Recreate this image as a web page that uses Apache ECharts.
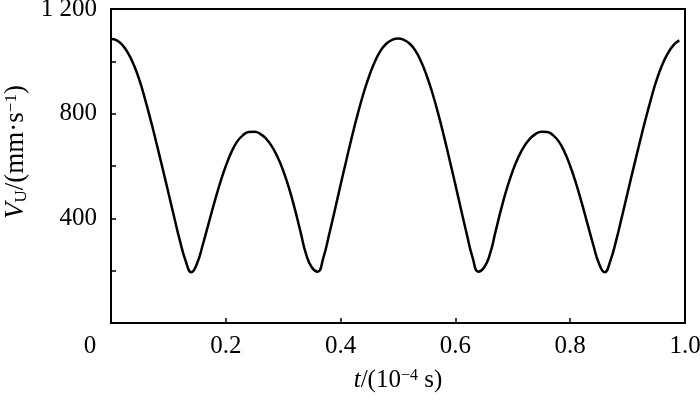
<!DOCTYPE html>
<html>
<head>
<meta charset="utf-8">
<script src="https://cdn.jsdelivr.net/npm/echarts@6/dist/echarts.min.js"></script>
<style>html,body{margin:0;padding:0;background:#fff}#c{width:700px;height:400px}</style>
</head>
<body>
<div id="c"></div>
<script>
// time in 1e-4 s
var times = [0.00,0.01,0.02,0.03,0.04,0.05,0.06,0.07,0.08,0.09,
  0.10,0.11,0.12,0.13,0.14,0.15,0.16,0.17,0.18,0.19,
  0.20,0.21,0.22,0.23,0.24,0.25,0.26,0.27,0.28,0.29,
  0.30,0.31,0.32,0.33,0.34,0.35,0.36,0.37,0.38,0.39,
  0.40,0.41,0.42,0.43,0.44,0.45,0.46,0.47,0.48,0.49,
  0.50,0.51,0.52,0.53,0.54,0.55,0.56,0.57,0.58,0.59,
  0.60,0.61,0.62,0.63,0.64,0.65,0.66,0.67,0.68,0.69,
  0.70,0.71,0.72,0.73,0.74,0.75,0.76,0.77,0.78,0.79,
  0.80,0.81,0.82,0.83,0.84,0.85,0.86,0.87,0.88,0.89,
  0.90,0.91,0.92,0.93,0.94,0.95,0.96,0.97,0.98,0.99];
// velocity in mm/s
var velocity = [1085,1080,1062,1030,985,925,850,768,680,590,
  498,405,315,238,194,228,300,380,460,535,
  600,654,694,718,730,731,723,705,676,635,
  582,516,438,350,262,212,196,250,338,432,
  528,622,714,800,878,945,1000,1042,1068,1082,
  1087,1082,1068,1042,1000,945,878,800,714,622,
  528,432,338,250,196,212,262,350,438,516,
  582,635,676,705,723,731,730,718,694,654,
  600,535,460,380,300,228,194,238,315,405,
  498,590,680,768,850,925,985,1030,1062,1080];
var yTicks = [0, 400, 800, 1200];
var xTicks = [0.2, 0.4, 0.6, 0.8, 1.0];

var pts = times.map(function (t, i) { return [t, velocity[i]]; });
var font = 'Liberation Serif';
var fs = 25;
var chart = echarts.init(document.getElementById('c'), null, {renderer: 'canvas'});
chart.setOption({
  animation: false,
  backgroundColor: '#fff',
  grid: {left: 111, right: 15, top: 9, bottom: 77, outerBoundsMode: 'none', containLabel: false,
    show: true, borderColor: '#000', borderWidth: 2, backgroundColor: 'transparent'},
  xAxis: {
    type: 'value', min: 0, max: 1.0, interval: 0.2,
    name: '{i|t}{n|/(10}{sup|−4}{n| s)}',
    nameLocation: 'middle', nameGap: 45,
    nameTextStyle: {fontFamily: font, fontSize: fs, color: '#000',
      rich: {
        i: {fontFamily: font, fontSize: fs, fontStyle: 'italic', color: '#000'},
        n: {fontFamily: font, fontSize: fs, color: '#000'},
        sup: {fontFamily: font, fontSize: 16, color: '#000', verticalAlign: 'top', padding: [0, 0, 9, 0]}
      }},
    axisLine: {show: true, onZero: false, lineStyle: {color: '#000', width: 2}},
    axisTick: {show: true, inside: true, length: 5, lineStyle: {color: '#000', width: 1.5}},
    splitLine: {show: false},
    axisLabel: {
      fontFamily: font, fontSize: fs, color: '#000', margin: 11,
      formatter: function (v) {
        if (v === 0) return '{o|0}';
        for (var k = 0; k < xTicks.length; k++) if (Math.abs(xTicks[k] - v) < 1e-9) return xTicks[k].toFixed(1);
        return '';
      },
      rich: {o: {fontFamily: font, fontSize: fs, color: '#000', padding: [0, 42, 0, 0]}}
    }
  },
  yAxis: {
    type: 'value', min: 0, max: 1200, interval: 400,
    name: '{i|V}{sub|U}{n|/(mm·s}{sup|−1}{n|)}',
    nameLocation: 'middle', nameGap: 80, nameRotate: 90,
    nameTextStyle: {fontFamily: font, fontSize: 27, color: '#000', padding: [0, 0, 0, 28],
      rich: {
        i: {fontFamily: font, fontSize: 27, fontStyle: 'italic', color: '#000'},
        n: {fontFamily: font, fontSize: 27, color: '#000'},
        sub: {fontFamily: font, fontSize: 17, color: '#000', verticalAlign: 'bottom', padding: [9, 0, 0, 0]},
        sup: {fontFamily: font, fontSize: 17, color: '#000', verticalAlign: 'top', padding: [0, 0, 9, 0]}
      }},
    axisLine: {show: true, lineStyle: {color: '#000', width: 2}},
    axisTick: {show: true, inside: true, length: 5, lineStyle: {color: '#000', width: 1.5}},
    minorTick: {show: true, splitNumber: 2, length: 5, lineStyle: {color: '#000', width: 1.5}},
    splitLine: {show: false},
    axisLabel: {
      fontFamily: font, fontSize: fs, color: '#000', margin: 14,
      formatter: function (v) {
        if (v === 0) return '';
        if (v === 1200) return '1 200';
        return String(v);
      }
    }
  },
  series: [{
    type: 'line', data: pts, smooth: 0.5, showSymbol: false,
    lineStyle: {color: '#000', width: 2.5}
  }]
});
</script>
</body>
</html>
